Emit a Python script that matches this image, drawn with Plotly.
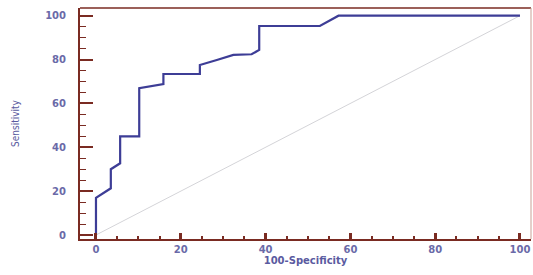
import plotly.graph_objects as go

# ROC curve points (100-Specificity, Sensitivity)
fpr = [0, 0, 3.5, 3.5, 5.7, 5.7, 10.2, 10.2, 15.9, 15.9, 24.5, 24.5, 28.5, 32.4, 36.7, 38.5, 38.5, 52.8, 57.2, 100]
tpr = [0, 16.9, 21.3, 30, 32.7, 45, 45, 66.9, 68.8, 73.4, 73.4, 77.5, 79.8, 82.1, 82.4, 84.4, 95.3, 95.3, 100, 100]
ref_x = [0, 100]
ref_y = [0, 100]
tick_vals = [0, 20, 40, 60, 80, 100]
tick_text = ["0", "20", "40", "60", "80", "100"]

axis_dark = "#7a2b22"
frame_light = "#c9a096"
label_col = "#5a5aa0"

fig = go.Figure()
fig.add_trace(go.Scatter(x=ref_x, y=ref_y, mode="lines",
                         line=dict(color="#d4d4d8", width=1), hoverinfo="skip"))
fig.add_trace(go.Scatter(x=fpr, y=tpr, mode="lines",
                         line=dict(color="#3d3d96", width=2.2)))

fig.update_layout(
    width=533, height=275,
    margin=dict(l=80, r=2, t=8, b=36),
    paper_bgcolor="white", plot_bgcolor="white",
    showlegend=False,
    font=dict(family="DejaVu Sans", size=9, color=label_col),
    xaxis=dict(range=[-3.77, 102.6], tickvals=tick_vals, ticktext=tick_text,
               automargin=False,
               showgrid=False, zeroline=False, showline=True,
               linecolor=axis_dark, linewidth=2,
               ticks="inside", ticklen=6, tickwidth=2.5, tickcolor=axis_dark,
               minor=dict(dtick=5, ticks="inside", ticklen=3, tickwidth=1.5, tickcolor=axis_dark),
               tickfont=dict(family="DejaVu Sans", size=10, color="#6a6aa8", weight="bold"),
               title=dict(text="100-Specificity", standoff=0,
                          font=dict(family="DejaVu Sans", size=10, color=label_col, weight="bold"))),
    yaxis=dict(range=[-1.82, 103.5], tickvals=tick_vals, ticktext=tick_text,
               automargin=False,
               showgrid=False, zeroline=False, showline=True,
               linecolor=axis_dark, linewidth=2,
               ticks="inside", ticklen=13, tickwidth=2, tickcolor=axis_dark,
               minor=dict(dtick=5, ticks="inside", ticklen=6, tickwidth=1, tickcolor=axis_dark),
               ticklabelstandoff=10,
               tickfont=dict(family="DejaVu Sans", size=10, color="#6a6aa8", weight="bold"),
               title=dict(text="Sensitivity", standoff=24,
                          font=dict(family="Liberation Sans Narrow, DejaVu Sans Condensed", size=10, color=label_col))),
    shapes=[
        dict(type="line", xref="paper", yref="paper", x0=0, x1=1, y0=1, y1=1,
             line=dict(color=axis_dark, width=1.5)),
        dict(type="line", xref="paper", yref="paper", x0=1, x1=1, y0=0, y1=1,
             line=dict(color=frame_light, width=1)),
    ],
)

fig.write_html("out.html",
               config={"displayModeBar": False},
               post_script="document.body.style.margin='0';document.body.style.overflow='hidden';")
